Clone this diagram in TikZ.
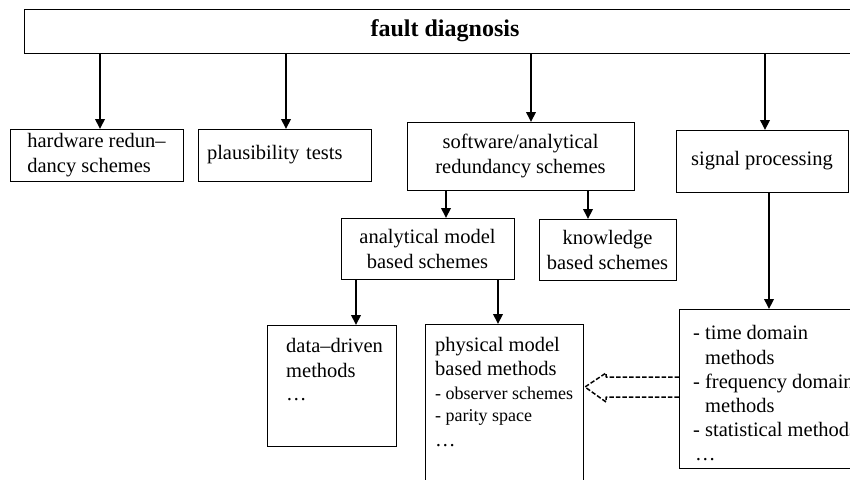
\documentclass[tikz,border=0pt]{standalone}
\usepackage{fontspec}
\setmainfont{Liberation Serif}
\usetikzlibrary{arrows.meta}
\begin{document}
\begin{tikzpicture}[x=1pt,y=-1pt,
  box/.style={draw=black, line width=0.9pt, inner sep=0pt, outer sep=0pt,
              anchor=north west, font=\fontsize{20.5}{25}\selectfont},
  arr/.style={line width=2pt, -{Triangle[length=10pt,width=9.5pt]}},
  ln/.style={anchor=base west, inner sep=0pt, font=\fontsize{20.5}{25}\selectfont},
  sm/.style={anchor=base west, inner sep=0pt, font=\fontsize{18}{21}\selectfont},
  hollow/.style={dash pattern=on 4.5pt off 2pt, line width=1.5pt, line join=round}
]
\useasboundingbox (0,0) rectangle (850,479);
\clip (0,0) rectangle (850,479);

% boxes
\node[box, minimum width=842pt, minimum height=44pt,
      font=\bfseries\fontsize{24}{28}\selectfont] (fd) at (24,9) {fault diagnosis};
\node[box, minimum width=173pt, minimum height=52pt, align=left] (hw) at (10,129)
      {hardware redun–\\dancy schemes};
\node[box, minimum width=173pt, minimum height=52pt, text width=155pt,
      inner xsep=9pt, align=left] (pt) at (198,129) {plausibility tests};
\node[box, minimum width=227pt, minimum height=68pt, align=center] (sw) at (407,122)
      {software/analytical\\redundancy schemes};
\node[box, minimum width=172pt, minimum height=62pt] (sp) at (676,130) {signal processing};
\node[box, minimum width=173pt, minimum height=61pt, align=center] (am) at (341,218)
      {analytical model\\based schemes};
\node[box, minimum width=137pt, minimum height=61pt, align=center] (kb) at (539,219)
      {knowledge\\based schemes};
\node[box, minimum width=129pt, minimum height=121pt] (dd) at (267,325) {};
\node[box, minimum width=158pt, minimum height=200pt] (pm) at (425,324) {};
\node[box, minimum width=240pt, minimum height=159pt] (rb) at (679,309) {};

% data-driven methods
\node[ln] (dd1) at (286,352) {data–driven};
\node[ln] (dd2) at (286,377) {methods};
\node[ln] (dd3) at (286,400) {…};

% physical model based methods
\node[ln] (pm1) at (435,351) {physical model};
\node[ln] (pm2) at (435,375) {based methods};
\node[sm] (pm3) at (435,399) {- observer schemes};
\node[sm] (pm4) at (435,421) {- parity space};
\node[ln] (pm5) at (435,446) {…};

% signal processing methods
\node[ln] (rb1) at (693,339) {- time domain};
\node[ln] (rb2) at (705,364) {methods};
\node[ln] (rb3) at (693,388) {- frequency domain};
\node[ln] (rb4) at (705,412) {methods};
\node[ln] (rb5) at (693,436) {- statistical methods};
\node[ln] (rb6) at (695,460) {…};

% hierarchy arrows
\draw[arr] (fd.south -| 100,0) -- (hw.north -| 100,0);
\draw[arr] (fd.south -| 286,0) -- (pt.north -| 286,0);
\draw[arr] (fd.south -| 531,0) -- (sw.north -| 531,0);
\draw[arr] (fd.south -| 765,0) -- (sp.north -| 765,0);
\draw[arr] (sw.south -| 446,0) -- (am.north -| 446,0);
\draw[arr] (sw.south -| 588,0) -- (kb.north -| 588,0);
\draw[arr] (am.south -| 356,0) -- (dd.north -| 356,0);
\draw[arr] (am.south -| 498,0) -- (pm.north -| 498,0);
\draw[arr] (sp.south -| 769,0) -- (rb.north -| 769,0);

% hollow dashed arrow from signal methods to physical model methods
\draw[hollow] (rb.west |- 0,377) -- (606,377) -- (606,373)
  -- ([xshift=2pt]pm.east |- 0,387) -- (606,402) -- (606,397) -- (rb.west |- 0,397);
\end{tikzpicture}
\end{document}
